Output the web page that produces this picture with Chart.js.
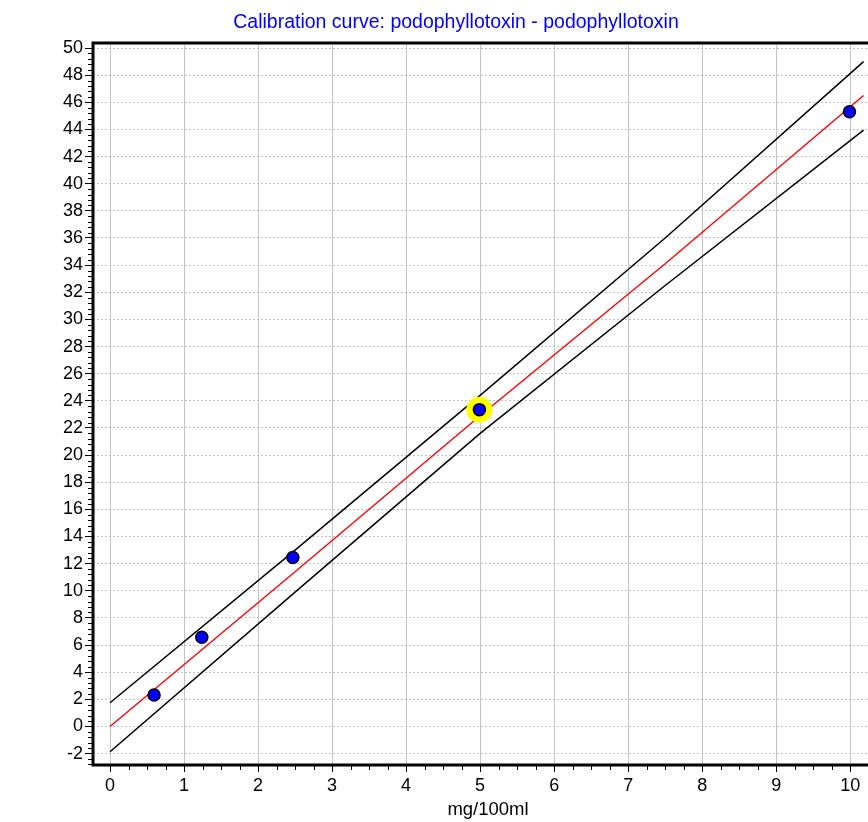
<!DOCTYPE html>
<html><head><meta charset="utf-8">
<script src="https://cdn.jsdelivr.net/npm/chart.js@4/dist/chart.umd.min.js"></script>
<style>html,body{margin:0;padding:0;background:#fff;overflow:hidden}#wrap{width:868px;height:822px;position:relative}</style>
</head><body><div id="wrap"><canvas id="c"></canvas></div>
<script>
const titleText = 'Calibration curve: podophyllotoxin - podophyllotoxin';
const xTitle = 'mg/100ml';
const pointX = [0.595, 1.24, 2.47, 4.99, 9.99];
const pointY = [2.32, 6.57, 12.45, 23.35, 45.3];
const highlightIndex = 3;
const lineX = [0, 2.5, 5, 7.5, 10.18];
const fitY = [0, 11.4, 22.9, 34.1, 46.5];
const upperY = [1.75, 13.0, 24.4, 36.0, 49.0];
const lowerY = [-1.86, 9.9, 21.6, 32.5, 43.95];
const xTicks = [0, 1, 2, 3, 4, 5, 6, 7, 8, 9, 10];
const yTicks = [-2, 0, 2, 4, 6, 8, 10, 12, 14, 16, 18, 20, 22, 24, 26, 28, 30, 32, 34, 36, 38, 40, 42, 44, 46, 48, 50];
const xRange = [-0.23, 10.24];
const yRange = [-2.84, 50.37];
const xMinorStep = 0.25;
const yMinorStep = 0.4;

const pts = pointX.map((x, i) => ({x, y: pointY[i]}));
const line = ys => lineX.map((x, i) => ({x, y: ys[i]}));

const FONT = "'Liberation Sans', Arial, sans-serif";

const framePlugin = {
  id: 'frame',
  afterDraw(chart) {
    const {ctx, chartArea: a, scales} = chart;
    ctx.save();
    ctx.strokeStyle = '#000';
    ctx.lineWidth = 1;
    const xs = scales.x, ys = scales.y;
    for (let k = Math.ceil(xRange[0] / xMinorStep); k * xMinorStep <= xRange[1]; k++) {
      if (k % 4 === 0) continue;
      const px = Math.round(xs.getPixelForValue(k * xMinorStep)) + 0.5;
      ctx.beginPath(); ctx.moveTo(px, a.bottom); ctx.lineTo(px, a.bottom + 5); ctx.stroke();
    }
    for (let k = Math.ceil(yRange[0] / yMinorStep); k * yMinorStep <= yRange[1]; k++) {
      if (k % 5 === 0) continue;
      const py = Math.round(ys.getPixelForValue(k * yMinorStep)) + 0.5;
      ctx.beginPath(); ctx.moveTo(a.left - 5, py); ctx.lineTo(a.left, py); ctx.stroke();
    }
    ctx.strokeStyle = '#000';
    ctx.lineWidth = 3;
    ctx.beginPath();
    ctx.moveTo(a.right + 2, a.top); ctx.lineTo(a.left, a.top); ctx.lineTo(a.left, a.bottom); ctx.lineTo(a.right + 2, a.bottom);
    ctx.stroke();
    // titles
    ctx.textAlign = 'center';
    ctx.textBaseline = 'middle';
    ctx.fillStyle = '#0000ff';
    ctx.font = '19.5px ' + FONT;
    ctx.fillText(titleText, 456, 23);
    ctx.fillStyle = '#000';
    ctx.font = '18.5px ' + FONT;
    ctx.fillText(xTitle, 488, 810);
    ctx.restore();
  }
};

new Chart(document.getElementById('c'), {
  type: 'scatter',
  data: {
    datasets: [
      {label: 'fit', data: line(fitY), showLine: true, borderColor: '#ff0000', borderWidth: 1.4, pointRadius: 0, order: 3},
      {label: 'upper', data: line(upperY), showLine: true, borderColor: '#000000', borderWidth: 1.5, pointRadius: 0, order: 3},
      {label: 'lower', data: line(lowerY), showLine: true, borderColor: '#000000', borderWidth: 1.5, pointRadius: 0, order: 3},
      {label: 'highlight', data: [pts[highlightIndex]], pointRadius: 13, pointBackgroundColor: '#ffff00', pointBorderWidth: 0, pointBorderColor: '#ffff00', order: 2},
      {label: 'points', data: pts, pointRadius: 6, pointBackgroundColor: '#0000ff', pointBorderColor: '#000000', pointBorderWidth: 1.5, order: 1}
    ]
  },
  options: {
    responsive: true,
    maintainAspectRatio: false,
    animation: false,
    layout: {autoPadding: false, padding: {left: 0, right: 0, top: 43, bottom: 0}},
    plugins: {
      legend: {display: false},
      tooltip: {enabled: false},
      title: {display: false}
    },
    scales: {
      x: {
        type: 'linear', min: xRange[0], max: xRange[1],
        afterBuildTicks: s => { s.ticks = xTicks.map(v => ({value: v})); },
        afterFit: s => { s.height = 57; s.paddingLeft = 0; s.paddingRight = 0; },
        grid: {color: '#c4c4c4', lineWidth: 1, tickColor: '#000', tickLength: 7, tickWidth: 1},
        border: {display: false},
        ticks: {color: '#000', font: {family: FONT, size: 18}, padding: 3, maxRotation: 0, autoSkip: false}
      },
      y: {
        type: 'linear', min: yRange[0], max: yRange[1],
        afterBuildTicks: s => { s.ticks = yTicks.map(v => ({value: v})); },
        afterFit: s => { s.width = 93; s.paddingTop = 0; s.paddingBottom = 0; },
        grid: {color: '#c4c4c4', lineWidth: 1, tickColor: '#000', tickLength: 8, tickWidth: 1},
        border: {display: false, dash: [2, 2]},
        ticks: {color: '#000', font: {family: FONT, size: 18}, padding: 2, autoSkip: false}
      }
    }
  },
  plugins: [framePlugin]
});
</script></body></html>
